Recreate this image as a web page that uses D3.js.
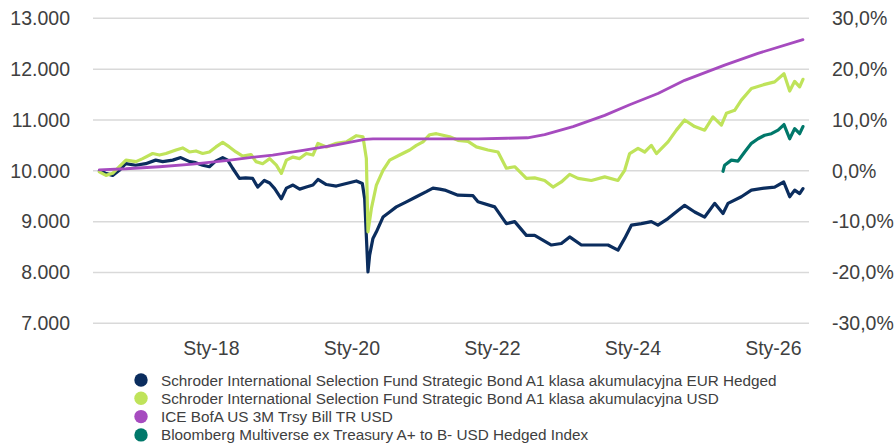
<!DOCTYPE html>
<html>
<head>
<meta charset="utf-8">
<script src="https://cdn.jsdelivr.net/npm/d3@7"></script>
<style>
  body { margin: 0; background: #fff; }
  text { font-family: "Liberation Sans", Arial, sans-serif; fill: #404040; }
</style>
</head>
<body>
<div id="chart"></div>
<script>
// Chart size
var width = 895;
var height = 445;

// X ticks (decimal years) and their labels
var tickYears = [2018, 2020, 2022, 2024, 2026];
var tickLabels = ["Sty-18", "Sty-20", "Sty-22", "Sty-24", "Sty-26"];

// Series names and colours (legend order)
var names = [
  "Schroder International Selection Fund Strategic Bond A1 klasa akumulacyjna EUR Hedged",
  "Schroder International Selection Fund Strategic Bond A1 klasa akumulacyjna USD",
  "ICE BofA US 3M Trsy Bill TR USD",
  "Bloomberg Multiverse ex Treasury A+ to B- USD Hedged Index"
];
var colours = ["#0b2d5e", "#bfe35a", "#a64bbf", "#00786a"];
var widths = [3.2, 3.2, 2.8, 3.2];

// EUR Hedged (value in thousands, time in decimal years)
var eurT = [2016.406, 2016.495, 2016.595, 2016.690, 2016.780, 2016.922, 2017.065, 2017.207, 2017.307, 2017.450,
  2017.564, 2017.691, 2017.777, 2017.876, 2017.972, 2018.061, 2018.161, 2018.232, 2018.303, 2018.399,
  2018.488, 2018.588, 2018.659, 2018.754, 2018.830, 2018.901, 2018.996, 2019.068, 2019.162, 2019.257,
  2019.352, 2019.446, 2019.517, 2019.637, 2019.779, 2019.922, 2020.064, 2020.149, 2020.182, 2020.229,
  2020.253, 2020.300, 2020.349, 2020.443, 2020.538, 2020.633, 2020.776, 2020.918, 2021.060, 2021.154,
  2021.250, 2021.321, 2021.510, 2021.724, 2021.795, 2022.033, 2022.199, 2022.318, 2022.484, 2022.602,
  2022.840, 2022.982, 2023.100, 2023.267, 2023.456, 2023.646, 2023.788, 2023.883, 2023.979, 2024.121,
  2024.263, 2024.357, 2024.500, 2024.642, 2024.737, 2024.880, 2025.022, 2025.164, 2025.283, 2025.354,
  2025.544, 2025.687, 2025.876, 2026.018, 2026.147, 2026.232, 2026.303, 2026.374, 2026.421];
var eurV = [10.00, 9.95, 9.91, 10.01, 10.14, 10.11, 10.14, 10.21, 10.18, 10.21,
  10.26, 10.18, 10.16, 10.11, 10.08, 10.19, 10.26, 10.21, 10.05, 9.85,
  9.86, 9.85, 9.68, 9.81, 9.76, 9.65, 9.45, 9.66, 9.72, 9.64,
  9.68, 9.72, 9.83, 9.73, 9.70, 9.75, 9.80, 9.75, 9.45, 8.01,
  8.34, 8.67, 8.80, 9.09, 9.19, 9.29, 9.39, 9.49, 9.59, 9.66,
  9.64, 9.62, 9.52, 9.51, 9.39, 9.29, 8.96, 9.00, 8.73, 8.73,
  8.54, 8.57, 8.70, 8.54, 8.54, 8.54, 8.44, 8.67, 8.93, 8.96,
  9.00, 8.93, 9.06, 9.22, 9.32, 9.19, 9.09, 9.36, 9.16, 9.36,
  9.49, 9.62, 9.66, 9.68, 9.78, 9.49, 9.62, 9.55, 9.65];

// USD
var usdT = [2016.406, 2016.500, 2016.595, 2016.690, 2016.784, 2016.927, 2017.022, 2017.164, 2017.260, 2017.354,
  2017.496, 2017.591, 2017.687, 2017.781, 2017.876, 2017.972, 2018.065, 2018.161, 2018.256, 2018.350,
  2018.446, 2018.564, 2018.635, 2018.730, 2018.830, 2018.925, 2018.996, 2019.068, 2019.162, 2019.257,
  2019.352, 2019.446, 2019.517, 2019.637, 2019.779, 2019.922, 2020.064, 2020.158, 2020.206, 2020.229,
  2020.278, 2020.349, 2020.443, 2020.538, 2020.680, 2020.823, 2020.918, 2021.012, 2021.107, 2021.203,
  2021.297, 2021.392, 2021.510, 2021.653, 2021.772, 2021.937, 2022.080, 2022.199, 2022.318, 2022.484,
  2022.602, 2022.744, 2022.863, 2022.982, 2023.100, 2023.219, 2023.409, 2023.599, 2023.788, 2023.883,
  2023.954, 2024.073, 2024.168, 2024.263, 2024.335, 2024.500, 2024.619, 2024.737, 2024.880, 2025.022,
  2025.140, 2025.260, 2025.331, 2025.449, 2025.544, 2025.687, 2025.876, 2026.018, 2026.151, 2026.232,
  2026.303, 2026.374, 2026.421];
var usdV = [9.98, 9.91, 9.95, 10.08, 10.21, 10.18, 10.24, 10.34, 10.31, 10.34,
  10.41, 10.45, 10.37, 10.39, 10.34, 10.37, 10.47, 10.56, 10.47, 10.37,
  10.29, 10.32, 10.18, 10.14, 10.24, 10.11, 9.95, 10.21, 10.27, 10.24,
  10.34, 10.31, 10.54, 10.47, 10.54, 10.57, 10.69, 10.67, 10.24, 8.80,
  9.26, 9.72, 10.01, 10.21, 10.31, 10.41, 10.50, 10.57, 10.71, 10.73,
  10.70, 10.67, 10.60, 10.58, 10.47, 10.41, 10.37, 10.05, 10.08, 9.85,
  9.86, 9.81, 9.68, 9.78, 9.93, 9.85, 9.81, 9.88, 9.81, 10.01,
  10.34, 10.44, 10.37, 10.50, 10.34, 10.57, 10.80, 11.00, 10.87, 10.80,
  11.06, 10.90, 11.13, 11.19, 11.39, 11.62, 11.70, 11.75, 11.91, 11.57,
  11.76, 11.65, 11.80];

// ICE BofA US 3M T-bill
var billT = [2016.406, 2016.784, 2017.260, 2017.734, 2018.208, 2018.545, 2018.873, 2019.304, 2019.779, 2020.182,
  2020.300, 2021.000, 2021.800, 2022.200, 2022.500, 2022.744, 2023.148, 2023.599, 2023.954, 2024.357,
  2024.737, 2025.306, 2025.780, 2026.421];
var billV = [10.02, 10.04, 10.08, 10.13, 10.20, 10.26, 10.31, 10.40, 10.51, 10.62,
  10.63, 10.63, 10.63, 10.64, 10.65, 10.71, 10.87, 11.09, 11.30, 11.52,
  11.78, 12.08, 12.31, 12.58];

// Bloomberg Multiverse ex Treasury
var bbgT = [2025.283, 2025.306, 2025.402, 2025.496, 2025.591, 2025.687, 2025.781, 2025.876, 2025.972, 2026.067,
  2026.151, 2026.232, 2026.303, 2026.374, 2026.421];
var bbgV = [9.99, 10.11, 10.21, 10.19, 10.37, 10.54, 10.63, 10.70, 10.73, 10.80,
  10.91, 10.63, 10.83, 10.73, 10.87];

// Left axis ticks (thousands) and right axis ticks (fractions)
var leftTicks = [7, 8, 9, 10, 11, 12, 13];
var rightTicks = [-0.3, -0.2, -0.1, 0, 0.1, 0.2, 0.3];

var pl = d3.formatLocale({decimal: ",", thousands: ".", grouping: [3], currency: ["", " zł"], minus: "-"});
var fmtLeft = pl.format(",.0f");
var fmtRight = pl.format(".1%");

var plot = {left: 93, right: 809, top: 18.3, bottom: 323.3};

var x = d3.scaleLinear()
    .domain([2016.315, 2026.507])
    .range([plot.left, plot.right]);

var y = d3.scaleLinear()
    .domain([7, 13])
    .range([plot.bottom, plot.top]);

var yR = d3.scaleLinear()
    .domain([-0.3, 0.3])
    .range([plot.bottom, plot.top]);

var svg = d3.select("#chart").append("svg")
    .attr("width", width)
    .attr("height", height);

// Gridlines
svg.append("g").selectAll("line")
    .data(leftTicks)
    .enter().append("line")
    .attr("x1", plot.left)
    .attr("x2", plot.right)
    .attr("y1", function(d) { return y(d); })
    .attr("y2", function(d) { return y(d); })
    .style("stroke", "#d9d9d9")
    .style("stroke-width", 1.5);

// Left axis labels
svg.append("g").selectAll("text")
    .data(leftTicks)
    .enter().append("text")
    .attr("x", 70)
    .attr("y", function(d) { return y(d); })
    .attr("dy", "0.35em")
    .attr("text-anchor", "end")
    .style("font-size", "19.5px")
    .text(function(d) { return fmtLeft(d * 1000); });

// Right axis labels
svg.append("g").selectAll("text")
    .data(rightTicks)
    .enter().append("text")
    .attr("x", 832)
    .attr("y", function(d) { return yR(d); })
    .attr("dy", "0.35em")
    .attr("text-anchor", "start")
    .style("font-size", "19.5px")
    .text(function(d) { return fmtRight(d); });

// X labels
svg.append("g").selectAll("text")
    .data(tickYears)
    .enter().append("text")
    .attr("x", function(d) { return x(d); })
    .attr("y", 355)
    .attr("text-anchor", "middle")
    .style("font-size", "19.5px")
    .text(function(d, i) { return tickLabels[i]; });

// Lines
var line = d3.line()
    .x(function(d) { return x(d[0]); })
    .y(function(d) { return y(d[1]); });

var series = [
  d3.zip(eurT, eurV),
  d3.zip(usdT, usdV),
  d3.zip(billT, billV),
  d3.zip(bbgT, bbgV)
];

svg.append("g").selectAll("path")
    .data(series)
    .enter().append("path")
    .attr("d", line)
    .style("fill", "none")
    .style("stroke", function(d, i) { return colours[i]; })
    .style("stroke-width", function(d, i) { return widths[i]; })
    .style("stroke-linejoin", "round")
    .style("stroke-linecap", "round");

// Legend
var lg = svg.append("g").selectAll("g")
    .data(names)
    .enter().append("g")
    .attr("transform", function(d, i) { return "translate(141," + (380 + i * 18.3) + ")"; });

lg.append("circle")
    .attr("r", 6.7)
    .style("fill", function(d, i) { return colours[i]; });

lg.append("text")
    .attr("x", 20)
    .attr("dy", "0.36em")
    .style("font-size", "15.3px")
    .text(function(d) { return d; });
</script>
</body>
</html>
